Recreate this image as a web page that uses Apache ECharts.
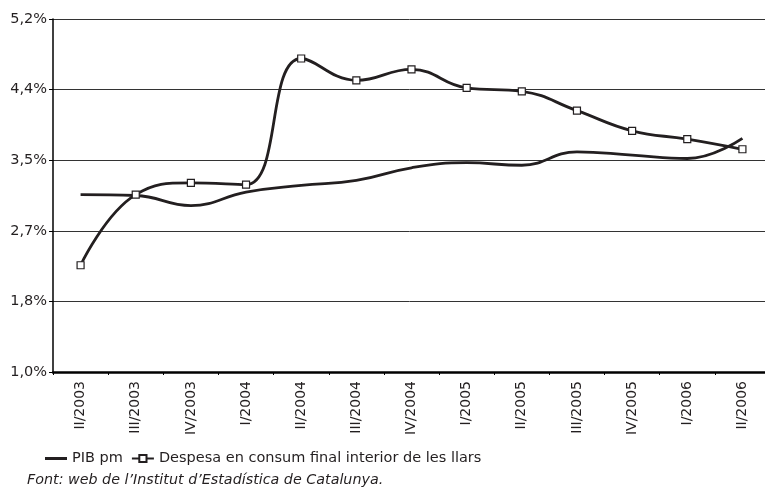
<!DOCTYPE html>
<html>
<head>
<meta charset="utf-8">
<script src="https://cdn.jsdelivr.net/npm/echarts@6/dist/echarts.min.js"></script>
<style>
html,body{margin:0;padding:0;background:#fff;}
#chart{width:765px;height:491px;}
</style>
</head>
<body>
<div id="chart"></div>
<script>
var categories = ['II/2003','III/2003','IV/2003','I/2004','II/2004','III/2004','IV/2004','I/2005','II/2005','III/2005','IV/2005','I/2006','II/2006'];
var pibValues = [3.11, 3.10, 2.98, 3.14, 3.22, 3.28, 3.43, 3.49, 3.46, 3.62, 3.58, 3.54, 3.78];
var despesaValues = [2.27, 3.11, 3.25, 3.23, 4.73, 4.47, 4.60, 4.38, 4.34, 4.11, 3.87, 3.77, 3.65];
var yTickLabels = ['1,0%','1,8%','2,7%','3,5%','4,4%','5,2%'];
var seriesNames = ['PIB pm', 'Despesa en consum final interior de les llars'];
var sourceNote = 'Font: web de l\u2019Institut d\u2019Estadística de Catalunya.';

var FONT = 'DejaVu Sans';
var INK = '#231f20';
var chart = echarts.init(document.getElementById('chart'), null, {renderer:'canvas'});
chart.setOption({
  animation: false,
  backgroundColor: '#fff',
  textStyle: {fontFamily: FONT, color: INK},
  grid: {left: 53, top: 19, width: 717, height: 353, containLabel: false, outerBoundsMode: 'none'},
  legend: {
    left: 40, top: 446,
    itemWidth: 22, itemHeight: 9, itemGap: 8,
    textStyle: {fontFamily: FONT, fontSize: 14.5, color: INK},
    data: [
      {name: seriesNames[0], icon: 'path://M0,0L0.01,0M0,3.1L22,3.1L22,5.9L0,5.9ZM21.99,9L22,9'},
      {name: seriesNames[1]}
    ]
  },
  graphic: [{
    type: 'text', left: 27, top: 473,
    style: {text: sourceNote, font: 'italic 14.3px "DejaVu Sans"', fill: INK}
  }],
  xAxis: {
    type: 'category',
    data: categories,
    boundaryGap: true,
    axisLine: {lineStyle: {color: '#000', width: 2.5}},
    axisTick: {show: true, length: 3, lineStyle: {color: '#000', width: 1}},
    axisLabel: {rotate: 90, margin: 9, fontFamily: FONT, fontSize: 14, color: INK, interval: 0}
  },
  yAxis: {
    type: 'value',
    min: 1.0, max: 5.2, interval: 0.84,
    axisLine: {show: true, lineStyle: {color: '#000', width: 1.5}},
    axisTick: {show: true, length: 4, lineStyle: {color: '#000', width: 1}},
    axisLabel: {
      margin: 6, fontFamily: FONT, fontSize: 14.5, color: INK,
      formatter: function (v, i) { return yTickLabels[i]; }
    },
    splitLine: {show: true, lineStyle: {color: '#333', width: 1}}
  },
  series: [{
    name: seriesNames[0],
    type: 'line',
    data: pibValues,
    smooth: 0.45,
    symbol: 'none',
    lineStyle: {color: INK, width: 2.8},
    itemStyle: {color: INK}
  }, {
    name: seriesNames[1],
    type: 'line',
    data: despesaValues,
    smooth: 0.45,
    symbol: 'rect',
    symbolSize: 7,
    showAllSymbol: true,
    lineStyle: {color: INK, width: 2.8},
    itemStyle: {color: '#fff', borderColor: INK, borderWidth: 1.2},
    z: 3
  }]
});
</script>
</body>
</html>
